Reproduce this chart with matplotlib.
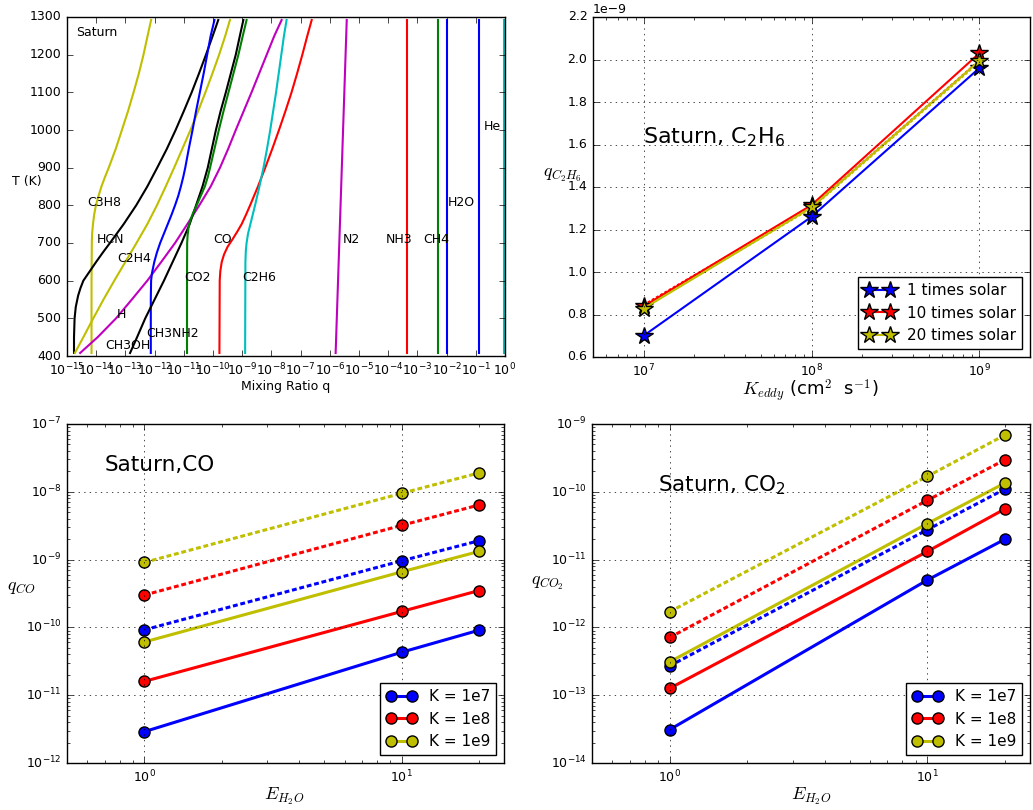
import numpy as np
import matplotlib
matplotlib.use('Agg')
import matplotlib.pyplot as plt

plt.style.use('classic')
plt.rcParams.update({
    'figure.facecolor': 'white', 'savefig.facecolor': 'white',
    'mathtext.fontset': 'dejavusans', 'font.family': ['DejaVu Sans'],
    'xtick.labelsize': 9, 'ytick.labelsize': 9,
})

# ---------------- Panel 1: Saturn abundance profiles (T in K, log10 q) -------------
T_C3H8 = [408, 500, 600, 700, 725, 750, 775, 800, 825, 850, 875, 900, 950, 1000, 1050, 1100, 1150, 1200, 1250, 1292]
lq_C3H8 = [-14.16, -14.16, -14.16, -14.15, -14.14, -14.11, -14.07, -14.01, -13.92, -13.82, -13.70, -13.57, -13.33, -13.12, -12.91, -12.72, -12.54, -12.38, -12.24, -12.12]

T_HCN = [408, 450, 500, 530, 560, 580, 600, 625, 650, 675, 700, 750, 800, 850, 900, 950, 1000, 1050, 1100, 1150, 1200, 1250, 1292]
lq_HCN = [-14.76, -14.76, -14.74, -14.70, -14.62, -14.54, -14.44, -14.22, -14.00, -13.77, -13.53, -13.06, -12.63, -12.25, -11.91, -11.58, -11.28, -11.00, -10.73, -10.48, -10.24, -10.01, -9.82]

T_C2H4 = [408, 450, 500, 550, 600, 650, 700, 750, 800, 850, 900, 950, 1000, 1050, 1100, 1150, 1200, 1250, 1292]
lq_C2H4 = [-14.73, -14.44, -14.10, -13.75, -13.38, -13.00, -12.62, -12.25, -11.92, -11.62, -11.33, -11.05, -10.77, -10.51, -10.26, -10.02, -9.79, -9.58, -9.42]

T_H = [408, 450, 500, 550, 600, 650, 700, 750, 800, 850, 900, 950, 1000, 1050, 1100, 1150, 1200, 1250, 1292]
lq_H = [-14.55, -13.95, -13.32, -12.78, -12.25, -11.77, -11.30, -10.88, -10.47, -10.08, -9.76, -9.48, -9.22, -8.95, -8.68, -8.42, -8.16, -7.90, -7.65]

T_CH3NH2 = [408, 550, 600, 620, 650, 675, 700, 725, 750, 775, 800, 825, 850, 875, 900, 950, 1000, 1050, 1100, 1150, 1200, 1250, 1292]
lq_CH3NH2 = [-12.13, -12.13, -12.12, -12.09, -12.01, -11.92, -11.81, -11.68, -11.55, -11.42, -11.30, -11.19, -11.10, -11.02, -10.95, -10.83, -10.70, -10.58, -10.45, -10.32, -10.20, -10.08, -9.95]

T_CH3OH = [408, 450, 500, 550, 600, 650, 700, 750, 775, 800, 825, 850, 875, 900, 950, 1000, 1050, 1100, 1150, 1200, 1250, 1292]
lq_CH3OH = [-12.84, -12.60, -12.32, -12.00, -11.68, -11.38, -11.08, -10.80, -10.69, -10.58, -10.47, -10.36, -10.27, -10.18, -10.04, -9.90, -9.74, -9.56, -9.39, -9.22, -9.08, -8.96]

T_CO2 = [408, 600, 700, 720, 740, 760, 780, 800, 825, 850, 875, 900, 950, 1000, 1050, 1100, 1150, 1200, 1250, 1292]
lq_CO2 = [-10.89, -10.89, -10.885, -10.87, -10.84, -10.78, -10.68, -10.56, -10.42, -10.28, -10.18, -10.10, -9.95, -9.80, -9.64, -9.47, -9.30, -9.13, -8.98, -8.85]

T_CO = [408, 600, 625, 650, 670, 690, 710, 730, 750, 775, 800, 850, 900, 950, 1000, 1050, 1100, 1150, 1200, 1250, 1292]
lq_CO = [-9.78, -9.77, -9.75, -9.70, -9.62, -9.50, -9.33, -9.17, -9.02, -8.87, -8.73, -8.46, -8.21, -7.97, -7.74, -7.52, -7.31, -7.12, -6.94, -6.77, -6.62]

T_C2H6 = [408, 650, 680, 700, 725, 750, 775, 800, 850, 900, 950, 1000, 1050, 1100, 1150, 1200, 1250, 1292]
lq_C2H6 = [-8.90, -8.89, -8.875, -8.85, -8.80, -8.72, -8.64, -8.56, -8.41, -8.27, -8.15, -8.04, -7.94, -7.84, -7.75, -7.66, -7.57, -7.48]

T_ends = [408, 1292]
lq_N2 = [-5.80, -5.42]
lq_NH3 = [-3.37, -3.37]
lq_CH4 = [-2.28, -2.28]
lq_H2O = [-1.99, -1.99]
lq_He = [-0.88, -0.88]
lq_H2 = [-0.05, -0.05]

labels_txt = ['Saturn', 'C3H8', 'HCN', 'C2H4', 'CO2', 'C2H6', 'CO', 'H', 'CH3NH2', 'CH3OH',
              'N2', 'NH3', 'CH4', 'H2O', 'He']
labels_lq = [-14.69, -14.32, -13.97, -13.29, -11.0, -9.01, -10.0, -13.29, -12.29, -13.70,
             -5.55, -4.07, -2.81, -1.95, -0.72]
labels_T = [1250, 798, 700, 650, 600, 600, 700, 500, 450, 418, 700, 700, 700, 798, 1000]

# ---------------- Panel 2: C2H6 vs Kzz ----------------
Kzz = [1e7, 1e8, 1e9]
c2h6_1x = [0.70e-9, 1.26e-9, 1.96e-9]
c2h6_10x = [0.839e-9, 1.315e-9, 2.03e-9]
c2h6_20x = [0.828e-9, 1.304e-9, 1.994e-9]
c2h6_10x_alt = [0.845e-9, 1.305e-9, 1.995e-9]
c2h6_20x_alt = [0.835e-9, 1.300e-9, 1.988e-9]

# ---------------- Panel 3/4: CO and CO2 vs E_H2O ----------------
E_H2O = [1, 10, 20]
co_k7 = [2.9e-12, 4.3e-11, 9.1e-11]
co_k8 = [1.6e-11, 1.72e-10, 3.5e-10]
co_k9 = [6.1e-11, 6.6e-10, 1.32e-9]
co_k7_d = [9.2e-11, 9.6e-10, 1.9e-9]
co_k8_d = [3.0e-10, 3.2e-9, 6.4e-9]
co_k9_d = [9.1e-10, 9.5e-9, 1.9e-8]

co2_k7 = [3.1e-14, 5.0e-12, 2.0e-11]
co2_k8 = [1.26e-13, 1.32e-11, 5.6e-11]
co2_k9 = [3.1e-13, 3.4e-11, 1.35e-10]
co2_k7_d = [2.7e-13, 2.76e-11, 1.1e-10]
co2_k8_d = [7.1e-13, 7.5e-11, 2.97e-10]
co2_k9_d = [1.7e-12, 1.69e-10, 6.9e-10]

K_labels = ['K = 1e7', 'K = 1e8', 'K = 1e9']

BLUE, GREEN, RED, CYAN, MAG, YEL, BLK = 'b', 'g', 'r', 'c', 'm', 'y', 'k'

fig = plt.figure(figsize=(10.33, 8.1), dpi=100)
W, H = 1033.0, 810.0
def add_ax(l, t, r, b):
    return fig.add_axes([l / W, 1 - b / H, (r - l) / W, (b - t) / H])

ax1 = add_ax(67, 17, 505, 356)
ax2 = add_ax(593, 17, 1030, 357)
ax3 = add_ax(67, 424, 504, 763)
ax4 = add_ax(592, 424, 1030, 763)

# ---- panel 1
lw1 = 1.5
profiles = [
    (T_C3H8, lq_C3H8, YEL), (T_HCN, lq_HCN, BLK), (T_C2H4, lq_C2H4, YEL), (T_H, lq_H, MAG),
    (T_CH3NH2, lq_CH3NH2, BLUE), (T_CH3OH, lq_CH3OH, BLK), (T_CO2, lq_CO2, GREEN),
    (T_CO, lq_CO, RED), (T_C2H6, lq_C2H6, CYAN),
    (T_ends, lq_N2, MAG), (T_ends, lq_NH3, RED), (T_ends, lq_CH4, GREEN),
    (T_ends, lq_H2O, BLUE), (T_ends, lq_He, BLUE), (T_ends, lq_H2, CYAN),
]
for T, lq, c in profiles:
    ax1.plot(10 ** np.array(lq), T, color=c, lw=lw1, solid_joinstyle='round')
for s, lq, T in zip(labels_txt, labels_lq, labels_T):
    ax1.text(10 ** lq, T, s, fontsize=9, ha='left', va='baseline')
ax1.set_xscale('log')
ax1.set_xlim(1e-15, 1e0)
ax1.set_ylim(400, 1300)
ax1.set_xticks([10.0 ** k for k in range(-15, 1)])
ax1.set_yticks(range(400, 1301, 100))
ax1.set_xlabel('Mixing Ratio q', fontsize=9)
ax1.set_ylabel('T (K)', fontsize=9, rotation=0, ha='center', va='center')
ax1.xaxis.set_label_coords(0.5, -0.091)
ax1.xaxis.label.set_va('center')
ax1.yaxis.set_label_coords(-0.091, 0.516)

# ---- panel 2
mk = dict(marker='*', markersize=13, markeredgecolor='k', markeredgewidth=1)
ax2.plot(Kzz, c2h6_10x_alt, color=RED, lw=1.5, ls='--', dashes=(2, 1.5))
ax2.plot(Kzz, c2h6_20x_alt, color=YEL, lw=1.5, ls='--', dashes=(2, 1.5))
ax2.plot(Kzz, c2h6_1x, color=BLUE, lw=1.5, markerfacecolor=BLUE, label='1 times solar', **mk)
ax2.plot(Kzz, c2h6_10x, color=RED, lw=1.5, markerfacecolor=RED, label='10 times solar', **mk)
ax2.plot(Kzz, c2h6_20x, color=YEL, lw=1.5, markerfacecolor=YEL, label='20 times solar', **mk)
ax2.set_xscale('log')
ax2.set_xlim(5e6, 2e9)
ax2.set_ylim(0.6e-9, 2.2e-9)
ax2.set_yticks(np.arange(0.6e-9, 2.21e-9, 0.2e-9))
ax2.grid(True, which='major')
ax2.text(0.114, 0.647, r'Saturn, C$\mathregular{_2}$H$\mathregular{_6}$', fontsize=16,
         transform=ax2.transAxes, ha='left', va='center')
ax2.set_xlabel(r'$K_{eddy}$ (cm$^2$  s$^{-1}$)', fontsize=13, math_fontfamily='cm')
ax2.xaxis.set_label_coords(0.497, -0.098)
ax2.xaxis.label.set_va('center')
ax2.set_ylabel(r'$q_{C_2H_6}$', fontsize=13, rotation=0, ha='center', va='center', math_fontfamily='cm')
ax2.yaxis.set_label_coords(-0.071, 0.535)
ax2.legend(loc='lower right', fontsize=11, numpoints=2)

# ---- panels 3 and 4
cmk = dict(marker='o', markersize=8, markeredgecolor='k', markeredgewidth=1)
def e_panel(ax, solid, dashed, ylim, title, tpos, ylab, ylabpos, xlabpos):
    cols = [BLUE, RED, YEL]
    for d, c in zip(dashed, cols):
        ax.plot(E_H2O, d, color=c, lw=2.2, ls='--', dashes=(3.5, 2), markerfacecolor=c, **cmk)
    for s, c, lab in zip(solid, cols, K_labels):
        ax.plot(E_H2O, s, color=c, lw=2.2, markerfacecolor=c, label=lab, **cmk)
    ax.set_xscale('log')
    ax.set_yscale('log')
    ax.set_xlim(0.5, 25)
    ax.set_ylim(*ylim)
    ax.grid(True, which='major')
    ax.text(tpos[0], tpos[1], title, fontsize=15.5, transform=ax.transAxes, ha='left', va='center')
    ax.set_xlabel(r'$E_{H_2O}$', fontsize=13, math_fontfamily='cm')
    ax.xaxis.set_label_coords(*xlabpos)
    ax.xaxis.label.set_va('center')
    ax.set_ylabel(ylab, fontsize=13, rotation=0, ha='center', va='center', math_fontfamily='cm')
    ax.yaxis.set_label_coords(*ylabpos)
    ax.legend(loc='lower right', fontsize=11, numpoints=2)

e_panel(ax3, [co_k7, co_k8, co_k9], [co_k7_d, co_k8_d, co_k9_d], (1e-12, 1e-7),
        'Saturn,CO', (0.087, 0.88), r'$q_{CO}$', (-0.104, 0.52), (0.497, -0.099))
e_panel(ax4, [co2_k7, co2_k8, co2_k9], [co2_k7_d, co2_k8_d, co2_k9_d], (1e-14, 1e-9),
        r'Saturn, CO$\mathregular{_2}$', (0.151, 0.818), r'$q_{CO_2}$', (-0.103, 0.53), (0.50, -0.099))

fig.savefig('out.png', dpi=100)
